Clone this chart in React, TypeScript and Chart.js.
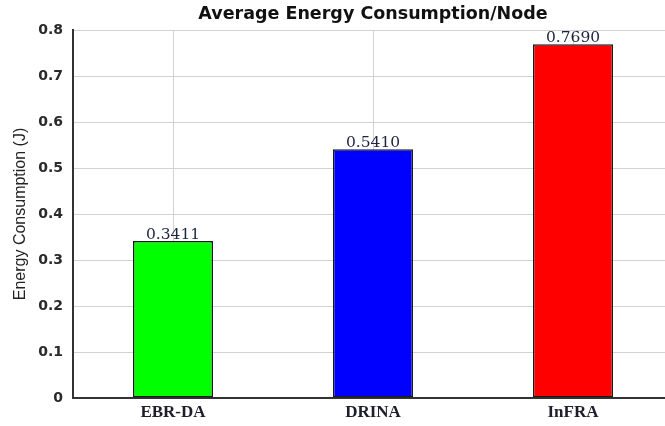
import { useEffect, useRef } from "react";
import { Chart, registerables } from "chart.js";

Chart.register(...registerables);

const categories = ["EBR-DA", "DRINA", "InFRA"];
const energy = [0.3411, 0.541, 0.769];
const barColors = ["#00ff00", "#0000ff", "#ff0000"];
const chartTitle = "Average Energy Consumption/Node";
const yAxisTitle = "Energy Consumption (J)";
const yMin = 0;
const yMax = 0.8;
const yStep = 0.1;

export default function App() {
  const ref = useRef<HTMLCanvasElement>(null);

  useEffect(() => {
    const valueLabels = {
      id: "valueLabels",
      afterDatasetsDraw(chart: any) {
        const ctx = chart.ctx;
        const meta = chart.getDatasetMeta(0);
        ctx.save();
        ctx.font = "15.5px 'DejaVu Serif', serif";
        ctx.fillStyle = "#1c2440";
        ctx.textAlign = "center";
        ctx.textBaseline = "alphabetic";
        meta.data.forEach((bar: any, i: number) => {
          ctx.fillText(energy[i].toFixed(4), bar.x, bar.y - 2);
        });
        ctx.restore();
      },
    };

    const chart = new Chart(ref.current!, {
      type: "bar",
      data: {
        labels: categories,
        datasets: [
          {
            data: energy,
            backgroundColor: barColors,
            borderColor: "#1a1a1a",
            borderWidth: 1.5,
            borderSkipped: false,
            barPercentage: 0.4,
            categoryPercentage: 1,
            yAxisID: "y",
          },
        ],
      },
      options: {
        responsive: false,
        animation: false,
        devicePixelRatio: 1,
        layout: { padding: 0 },
        plugins: {
          legend: { display: false },
          tooltip: { enabled: false },
          title: {
            display: true,
            text: chartTitle,
            color: "#111",
            font: { family: "'DejaVu Sans', sans-serif", size: 17.5, weight: "bold" },
            padding: { top: 4, bottom: 5 },
          },
        },
        scales: {
          x: {
            grid: { offset: false, color: "#d2d2d2", lineWidth: 1, drawTicks: false },
            border: { color: "#333", width: 2 },
            ticks: {
              padding: 4,
              color: "#1e1e2a",
              font: { family: "'Liberation Serif', 'Times New Roman', serif", size: 17, weight: "bold" },
            },
            afterFit: (s: any) => {
              s.height = 28;
            },
          },
          y: {
            min: yMin,
            max: yMax,
            grid: { color: "#d2d2d2", lineWidth: 1, drawTicks: false },
            border: { color: "#333", width: 2 },
            ticks: {
              stepSize: yStep,
              padding: 10,
              color: "#2a2a2a",
              font: { family: "'DejaVu Sans', sans-serif", size: 14, weight: "bold" },
            },
            title: {
              display: true,
              text: yAxisTitle,
              color: "#222",
              font: { family: "'Liberation Sans', Arial, sans-serif", size: 16 },
              padding: { top: 11, bottom: 0 },
            },
            afterFit: (s: any) => {
              s.width = 73;
            },
          },
          yRight: {
            type: "linear",
            position: "right",
            display: true,
            min: 0,
            max: 1,
            grid: { display: false, drawOnChartArea: false },
            ticks: { display: false },
            border: { display: false },
            afterFit: (s: any) => {
              s.width = 73;
            },
          },
        },
      },
      plugins: [valueLabels],
    });
    return () => chart.destroy();
  }, []);

  return (
    <div
      style={{
        position: "fixed",
        left: 0,
        top: 0,
        width: 665,
        height: 426,
        overflow: "hidden",
        background: "#fff",
      }}
    >
      <canvas ref={ref} width={746} height={426} style={{ width: 746, height: 426, display: "block" }} />
    </div>
  );
}
